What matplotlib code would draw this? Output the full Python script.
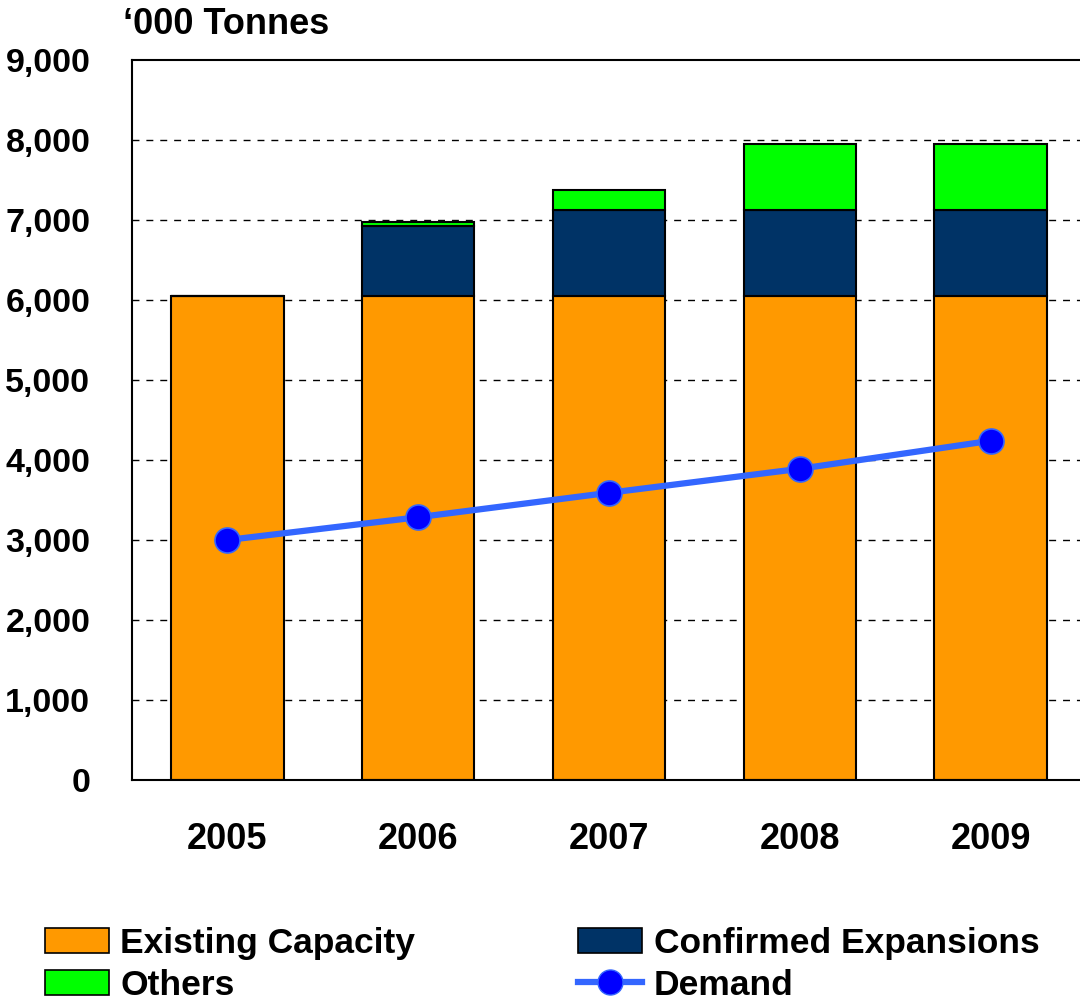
import matplotlib
matplotlib.use("Agg")
import matplotlib.pyplot as plt
from matplotlib.patches import Patch
from matplotlib.lines import Line2D
import numpy as np

plt.rcParams['font.family'] = ['Liberation Sans', 'DejaVu Sans']
plt.rcParams['font.weight'] = 'bold'

years = ["2005", "2006", "2007", "2008", "2009"]
existing = [6050, 6050, 6050, 6050, 6050]
confirmed = [0, 875, 1075, 1075, 1075]
others = [0, 45, 245, 825, 825]
demand = [3000, 3285, 3590, 3890, 4240]
yticks = [0, 1000, 2000, 3000, 4000, 5000, 6000, 7000, 8000, 9000]
ytick_labels = ["0", "1,000", "2,000", "3,000", "4,000", "5,000", "6,000", "7,000", "8,000", "9,000"]

c_exist = "#FF9900"
c_conf = "#003366"
c_oth = "#00FF00"
c_line = "#3366FF"
c_mark = "#0000FF"

fig = plt.figure(figsize=(10.8, 10.08), dpi=100)
ax = fig.add_axes([132/1080, 228/1008, (1086-132)/1080, 720/1008])

x = np.arange(len(years))
w = 0.59
ex = np.array(existing)
cf = np.array(confirmed)
ot = np.array(others)
ax.bar(x, ex, w, color=c_exist, edgecolor="black", linewidth=1.5, zorder=2)
ax.bar(x, cf, w, bottom=ex, color=c_conf, edgecolor="black", linewidth=1.5, zorder=2)
ax.bar(x, ot, w, bottom=ex + cf, color=c_oth, edgecolor="black", linewidth=1.5, zorder=2)
ax.plot(x, demand, color=c_line, linewidth=4.5, marker="o", markersize=18,
        markerfacecolor=c_mark, markeredgecolor=c_line, markeredgewidth=1.2, zorder=3)

ax.set_xlim(-0.5, 4.5)
ax.set_ylim(0, 9000)
ax.set_yticks(yticks)
ax.set_yticklabels(ytick_labels)
ax.set_xticks(x)
ax.set_xticklabels(years)
ax.tick_params(axis="y", length=0, pad=30, labelsize=24.5)
ax.tick_params(axis="x", length=0, pad=30, labelsize=26)
for lbl in ax.get_xticklabels() + ax.get_yticklabels():
    lbl.set_fontweight("bold")
for g in yticks[1:-1]:
    ax.axhline(g, color="black", linestyle=(0, (5, 5)), linewidth=1.0, zorder=1)
for s in ax.spines.values():
    s.set_linewidth(1.5)
    s.set_color("black")

fig.text(123/1080, 1 - 24/1008, "\u2018000 Tonnes", fontsize=26, fontweight="bold",
         ha="left", va="center")

handles = [
    Patch(facecolor=c_exist, edgecolor="black", linewidth=1.2),
    Patch(facecolor=c_oth, edgecolor="black", linewidth=1.2),
    Patch(facecolor=c_conf, edgecolor="black", linewidth=1.2),
    Line2D([0], [0], color=c_line, linewidth=4.5, marker="o", markersize=18,
           markerfacecolor=c_mark, markeredgecolor=c_line),
]
labels = ["Existing Capacity", "Others", "Confirmed Expansions", "Demand"]
leg = fig.legend(handles, labels, ncol=2, loc="upper left",
                 bbox_to_anchor=(45/1080, 1 - 927/1008), frameon=False,
                 prop={"size": 25.5, "weight": "bold"}, handlelength=1.8,
                 handleheight=0.7, handletextpad=0.33, columnspacing=4.6,
                 labelspacing=0.25, borderaxespad=0, borderpad=0)

fig.savefig("out.png", dpi=100)
